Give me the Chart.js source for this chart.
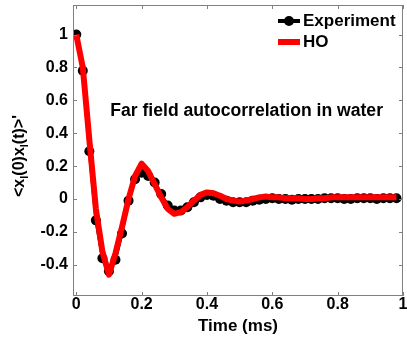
<!DOCTYPE html>
<html>
<head>
<meta charset="utf-8">
<script src="https://cdn.jsdelivr.net/npm/chart.js@4/dist/chart.umd.min.js"></script>
<style>
  html, body { margin: 0; padding: 0; background: #fff; }
  #wrap { width: 407px; height: 345px; position: relative; }
</style>
</head>
<body>
<div id="wrap"><canvas id="acf"></canvas></div>
<script>
// time axis (ms), one sample every 0.02 ms
const times = [0, 0.02, 0.04, 0.06, 0.08, 0.10, 0.12, 0.14, 0.16, 0.18,
               0.20, 0.22, 0.24, 0.26, 0.28, 0.30, 0.32, 0.34, 0.36, 0.38,
               0.40, 0.42, 0.44, 0.46, 0.48, 0.50, 0.52, 0.54, 0.56, 0.58,
               0.60, 0.62, 0.64, 0.66, 0.68, 0.70, 0.72, 0.74, 0.76, 0.78,
               0.80, 0.82, 0.84, 0.86, 0.88, 0.90, 0.92, 0.94, 0.96, 0.98];

// measured autocorrelation
const experiment = [1.00, 0.78, 0.29, -0.13, -0.36, -0.44, -0.37, -0.21, -0.01, 0.12,
                    0.16, 0.14, 0.10, 0.03, -0.04, -0.07, -0.07, -0.05, -0.02, 0.01,
                    0.025, 0.02, 0.00, -0.01, -0.02, -0.02, -0.02, -0.01, -0.005, 0.00,
                    0.005, 0.00, 0.00, -0.005, 0.00, 0.00, 0.00, 0.00, 0.005, 0.005,
                    0.005, 0.00, 0.00, 0.005, 0.005, 0.005, 0.00, 0.005, 0.005, 0.005];

// harmonic oscillator fit
const ho = [1.00, 0.80, 0.36, -0.06, -0.32, -0.46, -0.33, -0.17, 0.00, 0.14,
            0.215, 0.17, 0.09, 0.01, -0.06, -0.09, -0.08, -0.05, -0.01, 0.025,
            0.04, 0.035, 0.02, 0.00, -0.01, -0.015, -0.01, 0.00, 0.01, 0.015,
            0.01, 0.01, 0.005, 0.005, 0.005, 0.00, 0.00, 0.005, 0.005, 0.01,
            0.01, 0.01, 0.01, 0.01, 0.01, 0.01, 0.01, 0.01, 0.01, 0.01];

const xTicks = [0, 0.2, 0.4, 0.6, 0.8, 1];
const yTicks = [-0.4, -0.2, 0, 0.2, 0.4, 0.6, 0.8, 1];

const FONT = '"Liberation Sans", Arial, sans-serif';
const AXIS_GRAY = '#808080';

function pairs(ys) {
  return times.map((t, i) => ({x: t, y: ys[i]}));
}

function tickLabel(v) {
  return String(Math.round(v * 10) / 10);
}

// MATLAB-style box with inward ticks, legend, y label and annotation
const decorations = {
  id: 'decorations',
  afterDraw(chart) {
    const ctx = chart.ctx;
    const a = chart.chartArea;
    const xs = chart.scales.x, ys = chart.scales.y;
    ctx.save();

    ctx.strokeStyle = AXIS_GRAY;
    ctx.lineWidth = 1;
    ctx.strokeRect(a.left + 0.5, a.top + 0.5, a.right - a.left - 1, a.bottom - a.top - 1);
    const tl = 4;
    ctx.beginPath();
    xTicks.forEach(v => {
      const px = Math.round(xs.getPixelForValue(v)) + 0.5;
      ctx.moveTo(px, a.bottom); ctx.lineTo(px, a.bottom - tl);
      ctx.moveTo(px, a.top); ctx.lineTo(px, a.top + tl);
    });
    yTicks.forEach(v => {
      const py = Math.round(ys.getPixelForValue(v)) + 0.5;
      ctx.moveTo(a.left, py); ctx.lineTo(a.left + tl, py);
      ctx.moveTo(a.right, py); ctx.lineTo(a.right - tl, py);
    });
    ctx.stroke();

    // legend
    const dsExp = chart.data.datasets[0], dsHo = chart.data.datasets[1];
    const lx0 = a.right - 125, lx1 = a.right - 103;
    let ly = a.top + 16;
    ctx.strokeStyle = dsExp.borderColor;
    ctx.lineWidth = 4;
    ctx.beginPath(); ctx.moveTo(lx0, ly); ctx.lineTo(lx1, ly); ctx.stroke();
    ctx.fillStyle = dsExp.pointBackgroundColor;
    ctx.beginPath(); ctx.arc((lx0 + lx1) / 2, ly, 5, 0, Math.PI * 2); ctx.fill();
    ctx.fillStyle = '#000';
    ctx.font = 'bold 17px ' + FONT;
    ctx.textBaseline = 'middle';
    ctx.textAlign = 'left';
    ctx.fillText(dsExp.label, lx1 + 3, ly);
    ly += 21;
    ctx.strokeStyle = dsHo.borderColor;
    ctx.lineWidth = 6;
    ctx.beginPath(); ctx.moveTo(lx0, ly); ctx.lineTo(lx1, ly); ctx.stroke();
    ctx.fillText(dsHo.label, lx1 + 3, ly);

    // annotation inside the axes
    ctx.font = 'bold 17.6px ' + FONT;
    ctx.fillText('Far field autocorrelation in water',
                 xs.getPixelForValue(0.104), ys.getPixelForValue(0.537));

    // y label with subscripts, rotated
    ctx.translate(19, 156);
    ctx.rotate(-Math.PI / 2);
    const parts = [['<x', 0], ['l', 1], ['(0)x', 0], ['l', 1], ['(t)>\'', 0]];
    const big = 'bold 16px ' + FONT, small = 'bold 11px ' + FONT;
    let w = 0;
    parts.forEach(p => { ctx.font = p[1] ? small : big; w += ctx.measureText(p[0]).width; });
    let cx = -w / 2;
    ctx.textBaseline = 'alphabetic';
    parts.forEach(p => {
      ctx.font = p[1] ? small : big;
      ctx.fillText(p[0], cx, p[1] ? 9 : 5);
      cx += ctx.measureText(p[0]).width;
    });
    ctx.restore();
  }
};

new Chart(document.getElementById('acf'), {
  type: 'line',
  data: {
    datasets: [
      {
        label: 'Experiment',
        data: pairs(experiment),
        borderColor: '#000000',
        backgroundColor: '#000000',
        pointBackgroundColor: '#000000',
        borderWidth: 3,
        pointRadius: 5,
        pointBorderWidth: 0,
        tension: 0,
        order: 1
      },
      {
        label: 'HO',
        data: pairs(ho),
        borderColor: '#ff0000',
        backgroundColor: '#ff0000',
        borderWidth: 6,
        pointRadius: 0,
        tension: 0,
        borderJoinStyle: 'round',
        order: 0
      }
    ]
  },
  options: {
    responsive: true,
    maintainAspectRatio: false,
    animation: false,
    layout: { autoPadding: false, padding: { left: 0, right: 4, top: 5, bottom: 0 } },
    plugins: { legend: { display: false }, tooltip: { enabled: false } },
    scales: {
      x: {
        type: 'linear',
        min: -0.01,
        max: 1,
        grid: { display: false, drawTicks: false },
        border: { display: false },
        afterBuildTicks: s => { s.ticks = xTicks.map(v => ({value: v})); },
        afterFit: s => { s.height = 49; s.paddingLeft = 0; s.paddingRight = 0; },
        ticks: {
          padding: -1,
          color: '#000',
          maxRotation: 0,
          autoSkip: false,
          font: { family: FONT, size: 16, weight: 'bold' },
          callback: v => tickLabel(v)
        },
        title: {
          display: true,
          text: 'Time (ms)',
          color: '#000',
          padding: { top: 0, bottom: 8 },
          font: { family: FONT, size: 17, weight: 'bold' }
        }
      },
      y: {
        min: -0.59,
        max: 1.18,
        grid: { display: false, drawTicks: false },
        border: { display: false },
        afterBuildTicks: s => { s.ticks = yTicks.map(v => ({value: v})); },
        afterFit: s => { s.width = 73; s.paddingTop = 0; s.paddingBottom = 0; },
        ticks: {
          padding: 5,
          color: '#000',
          autoSkip: false,
          font: { family: FONT, size: 16, weight: 'bold' },
          callback: v => tickLabel(v)
        }
      }
    }
  },
  plugins: [decorations]
});
</script>
</body>
</html>
